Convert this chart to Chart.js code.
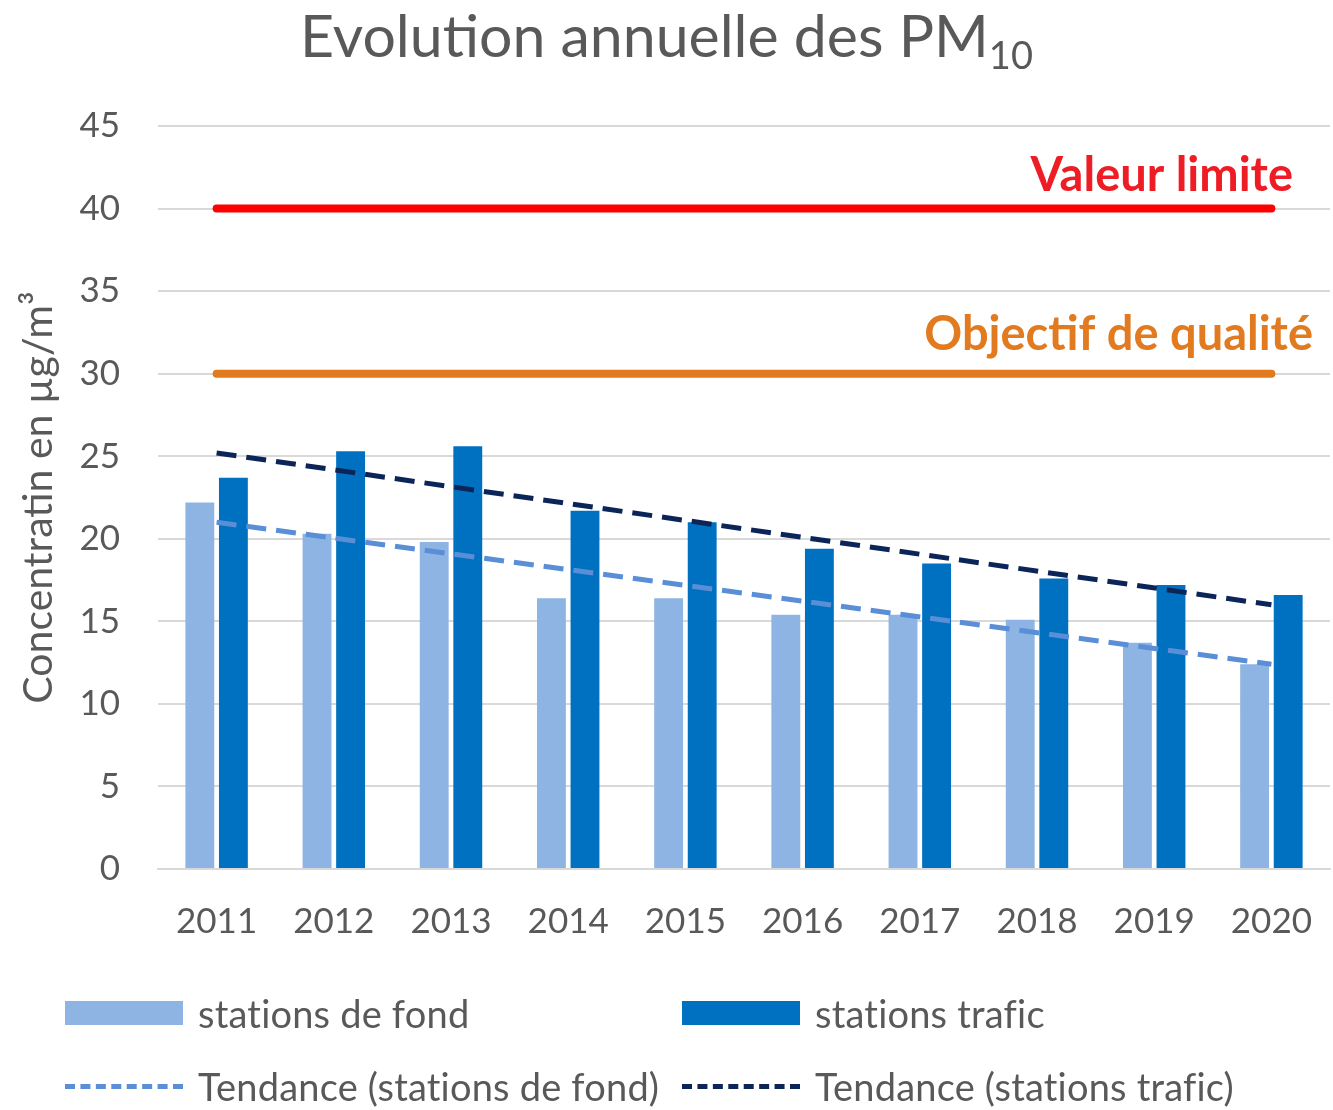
<!DOCTYPE html>
<html>
<head>
<meta charset="utf-8">
<script src="https://cdn.jsdelivr.net/npm/chart.js@4.4.0/dist/chart.umd.min.js"></script>
<style>
  body { margin: 0; background: #fff; font-family: Lato, sans-serif; }
  #wrap { position: relative; width: 1333px; height: 1110px; overflow: hidden; }
  #chart { position: absolute; left: 0; top: 0; }
  #title { position: absolute; left: 0; top: 0; width: 1333px; text-align: center;
           font-size: 59px; color: #595959; line-height: 70px; }
  #title sub { font-size: 38px; vertical-align: -12px; line-height: 0; }
  .leg { position: absolute; display: flex; align-items: center; font-size: 38px; color: #595959;
         letter-spacing: 0.2px; white-space: nowrap; }
  .leg .box { width: 118px; height: 24px; margin-right: 15px; }
  .leg .dash { width: 118px; height: 0; border-top: 5px dashed; margin-right: 15px; }
</style>
</head>
<body>
<div id="wrap">
  <canvas id="chart" width="1333" height="1110"></canvas>
  <div id="title">Evolution annuelle des PM<sub>10</sub></div>
  <div class="leg" style="left:65px; top:990px;"><span class="box" style="background:#8EB4E3"></span>stations de fond</div>
  <div class="leg" style="left:682px; top:990px;"><span class="box" style="background:#0070C0"></span>stations trafic</div>
  <div class="leg" style="left:65px; top:1063px;"><span class="dash" style="border-color:#5A8ED6"></span>Tendance (stations de fond)</div>
  <div class="leg" style="left:682px; top:1063px;"><span class="dash" style="border-color:#0B2559"></span>Tendance (stations trafic)</div>
</div>
<script>
const years = ["2011", "2012", "2013", "2014", "2015", "2016", "2017", "2018", "2019", "2020"];
const fond = [22.2, 20.3, 19.8, 16.4, 16.4, 15.4, 15.4, 15.1, 13.7, 12.4];
const trafic = [23.7, 25.3, 25.6, 21.7, 21.0, 19.4, 18.5, 17.6, 17.2, 16.6];
const trendFond = [21.0, null, null, null, null, null, null, null, null, 12.4];
const trendTrafic = [25.2, null, null, null, null, null, null, null, null, 16.0];
const valeurLimite = [40, 40, 40, 40, 40, 40, 40, 40, 40, 40];
const objectifQualite = [30, 30, 30, 30, 30, 30, 30, 30, 30, 30];
const yTicks = [0, 5, 10, 15, 20, 25, 30, 35, 40, 45];

const grey = "#595959";

const thresholdLabels = {
  id: "thresholdLabels",
  afterDatasetsDraw(chart) {
    const { ctx, scales: { y } } = chart;
    ctx.save();
    ctx.font = "bold 47px Lato";
    ctx.textAlign = "right";
    ctx.textBaseline = "alphabetic";
    ctx.fillStyle = "#EE1C25";
    ctx.fillText("Valeur limite", 1293, y.getPixelForValue(40) - 18);
    ctx.fillStyle = "#E27A1F";
    ctx.fillText("Objectif de qualité", 1313, y.getPixelForValue(30) - 24);
    ctx.restore();
  }
};

new Chart(document.getElementById("chart"), {
  type: "bar",
  data: {
    labels: years,
    datasets: [
      { label: "stations de fond", data: fond, backgroundColor: "#8EB4E3",
        categoryPercentage: 0.573, barPercentage: 0.86, order: 3 },
      { label: "stations trafic", data: trafic, backgroundColor: "#0070C0",
        categoryPercentage: 0.573, barPercentage: 0.86, order: 3 },
      { type: "line", label: "Tendance (stations de fond)", data: trendFond, spanGaps: true,
        borderColor: "#5A8ED6", borderWidth: 5, borderDash: [20, 10], pointRadius: 0, order: 1 },
      { type: "line", label: "Tendance (stations trafic)", data: trendTrafic, spanGaps: true,
        borderColor: "#0B2559", borderWidth: 5, borderDash: [20, 10], pointRadius: 0, order: 1 },
      { type: "line", label: "Valeur limite", data: valeurLimite,
        borderColor: "#FF0000", borderWidth: 8, borderCapStyle: "round", pointRadius: 0, order: 2 },
      { type: "line", label: "Objectif de qualité", data: objectifQualite,
        borderColor: "#E27A1F", borderWidth: 8, borderCapStyle: "round", pointRadius: 0, order: 2 }
    ]
  },
  options: {
    responsive: false,
    animation: false,
    layout: { padding: { top: 126, right: 3, left: 0, bottom: 0 } },
    plugins: { legend: { display: false }, tooltip: { enabled: false }, title: { display: false } },
    scales: {
      x: {
        grid: { display: false },
        border: { color: "#D9D9D9", width: 2 },
        ticks: { color: grey, font: { family: "Lato", size: 35 }, padding: 24, maxRotation: 0 },
        afterFit: (s) => { s.height = 241; s.paddingLeft = 0; s.paddingRight = 0; }
      },
      y: {
        min: 0, max: 45,
        afterBuildTicks: (s) => { s.ticks = yTicks.map(v => ({ value: v })); },
        grid: { color: "#D9D9D9", lineWidth: 2, drawTicks: false },
        border: { display: false },
        ticks: { color: grey, font: { family: "Lato", size: 35 }, padding: 38 },
        title: { display: true, text: "Concentratin en µg/m³", color: grey,
                 font: { family: "Lato", size: 41 }, padding: { top: 14, bottom: 0 } },
        afterFit: (s) => { s.width = 158; s.paddingTop = 0; s.paddingBottom = 0; }
      }
    }
  },
  plugins: [thresholdLabels]
});
</script>
</body>
</html>
